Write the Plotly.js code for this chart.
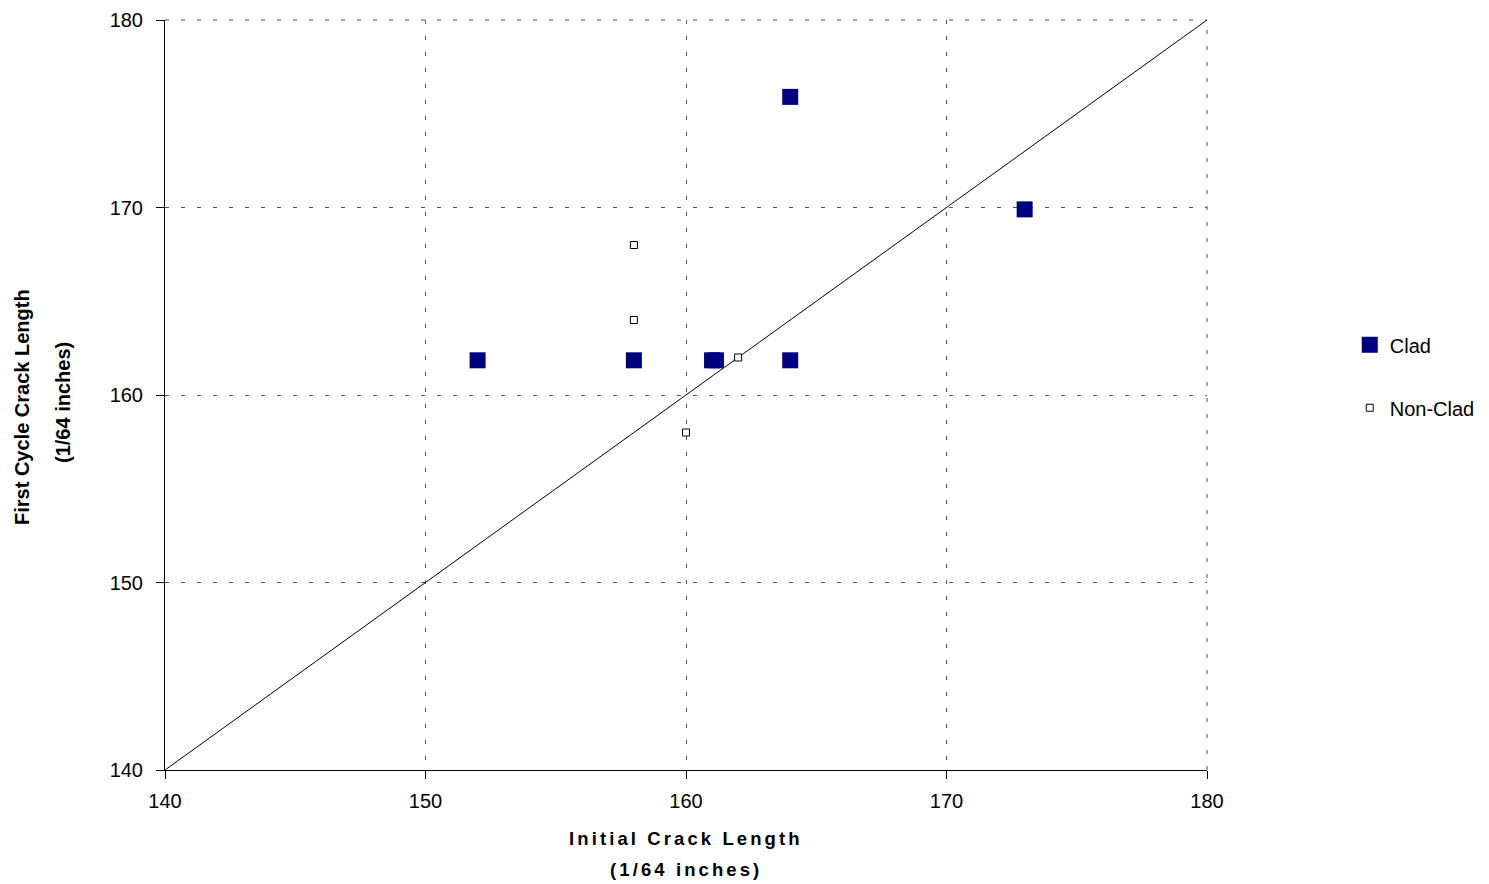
<!DOCTYPE html>
<html>
<head>
<meta charset="utf-8">
<script src="https://cdn.plot.ly/plotly-3.0.1.min.js"></script>
<style>
  html, body { margin: 0; padding: 0; background: #fff; }
  #chart { width: 1489px; height: 884px; }
</style>
</head>
<body>
<div id="chart"></div>
<script>
// Data
const cladX = [152, 158, 161, 161.15, 164, 164, 173];
const cladY = [161.85, 161.85, 161.85, 161.85, 161.85, 175.9, 169.9];
const nonCladX = [158, 158, 162, 160];
const nonCladY = [168, 164, 162, 158];
const diagX = [140, 180];
const diagY = [140, 180];
const tickVals = [140, 150, 160, 170, 180];
const tickText = ['140', '150', '160', '170', '180'];

const FONT = 'Liberation Sans, Arial, sans-serif';

const traces = [
  {
    x: diagX, y: diagY, type: 'scatter', mode: 'lines',
    line: { color: '#000000', width: 1 },
    showlegend: false, hoverinfo: 'skip'
  },
  {
    x: cladX, y: cladY, type: 'scatter', mode: 'markers', name: 'Clad',
    legendgroup: 'clad',
    marker: { symbol: 'square', size: 16, color: '#000080', line: { width: 0 } }
  },
  {
    x: nonCladX, y: nonCladY, type: 'scatter', mode: 'markers', name: 'Non-Clad',
    legendgroup: 'nonclad',
    marker: { symbol: 'square', size: 7, color: '#ffffff', line: { color: '#000000', width: 1 } }
  }
];

const axisCommon = {
  range: [140, 180],
  tickmode: 'array',
  tickvals: tickVals,
  ticktext: tickText,
  showgrid: true,
  gridcolor: '#555555',
  gridwidth: 1,
  griddash: '4px,12px',
  zeroline: false,
  showline: true,
  linecolor: '#000000',
  linewidth: 1,
  ticks: 'outside',
  ticklen: 8,
  tickcolor: '#000000',
  tickfont: { family: FONT, size: 20, color: '#000000' },
  automargin: false,
  fixedrange: true
};

const layout = {
  width: 1489, height: 884,
  margin: { l: 165, r: 282, t: 20, b: 114, autoexpand: false },
  paper_bgcolor: '#ffffff',
  plot_bgcolor: '#ffffff',
  font: { family: FONT, color: '#000000' },
  showlegend: true,
  xaxis: Object.assign({}, axisCommon, { ticklabelstandoff: 5 }),
  yaxis: Object.assign({}, axisCommon, { ticklabelstandoff: 9 }),
  shapes: [
    { type: 'line', xref: 'paper', yref: 'paper', x0: 0, x1: 1, y0: 1, y1: 1,
      line: { color: '#555555', width: 1, dash: '4px,12px' } },
    { type: 'line', xref: 'paper', yref: 'paper', x0: 1, x1: 1, y0: 0, y1: 1,
      line: { color: '#555555', width: 1, dash: '4px,12px' } }
  ],
  legend: {
    x: 1.137, xanchor: 'left', y: 0.593, yanchor: 'top',
    font: { family: FONT, size: 20, color: '#000000' },
    bgcolor: 'rgba(0,0,0,0)', borderwidth: 0,
    tracegroupgap: 34, traceorder: 'grouped'
  },
  annotations: [
    { xref: 'paper', yref: 'paper', x: 0.5, y: 0, xanchor: 'center', yanchor: 'middle',
      yshift: -68, showarrow: false,
      text: '<b><span style="letter-spacing:3.1px">Initial Crack Length</span></b>',
      font: { family: FONT, size: 18.5, color: '#000000' } },
    { xref: 'paper', yref: 'paper', x: 0.5, y: 0, xanchor: 'center', yanchor: 'middle',
      yshift: -99, showarrow: false,
      text: '<b><span style="letter-spacing:3.1px">(1/64 inches)</span></b>',
      font: { family: FONT, size: 18.5, color: '#000000' } },
    { xref: 'paper', yref: 'paper', x: 0, y: 0.5, xanchor: 'center', yanchor: 'middle',
      xshift: -143, yshift: -12, textangle: -90, showarrow: false,
      text: '<b>First Cycle Crack Length</b>',
      font: { family: FONT, size: 20, color: '#000000' } },
    { xref: 'paper', yref: 'paper', x: 0, y: 0.5, xanchor: 'center', yanchor: 'middle',
      xshift: -102, yshift: -8, textangle: -90, showarrow: false,
      text: '<b>(1/64 inches)</b>',
      font: { family: FONT, size: 20, color: '#000000' } }
  ]
};

Plotly.newPlot('chart', traces, layout, { displayModeBar: false, staticPlot: true });
</script>
</body>
</html>
